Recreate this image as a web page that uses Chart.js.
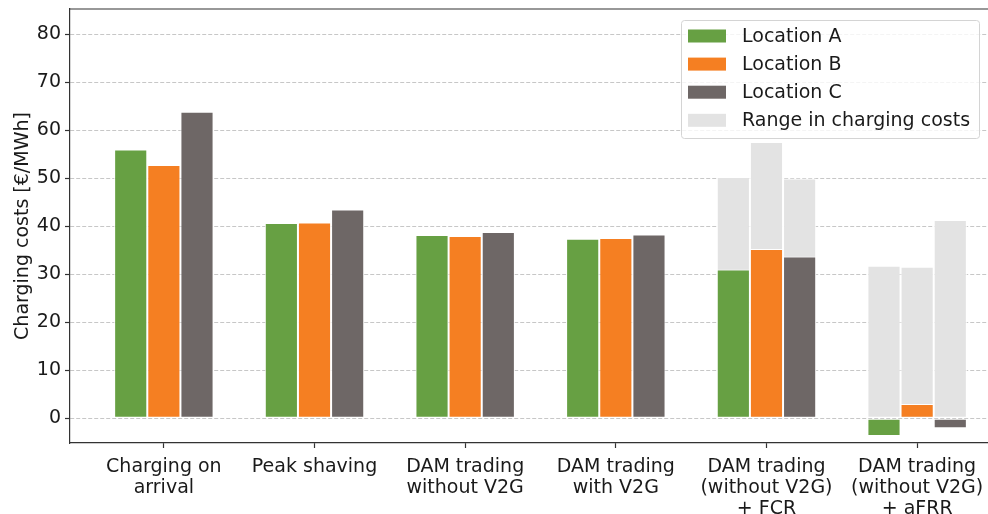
<!DOCTYPE html>
<html>
<head>
<meta charset="utf-8">
<script src="https://cdn.jsdelivr.net/npm/chart.js@4/dist/chart.umd.min.js"></script>
<style>
  html, body { margin: 0; padding: 0; background: #ffffff; overflow: hidden; }
  #wrap { width: 988px; height: 514px; position: relative; overflow: hidden; }
</style>
</head>
<body>
<div id="wrap"><canvas id="chart" width="1012" height="514"></canvas></div>
<script>
// Scenario labels (multi-line)
const categories = [
  ["Charging on", "arrival"],
  ["Peak shaving"],
  ["DAM trading", "without V2G"],
  ["DAM trading", "with V2G"],
  ["DAM trading", "(without V2G)", "+ FCR"],
  ["DAM trading", "(without V2G)", "+ aFRR"]
];

// Average charging costs per location [€/MWh]
const locationA = [56.0, 40.7, 38.2, 37.4, 31.0, -3.7];
const locationB = [52.8, 40.8, 38.0, 37.6, 35.3, 3.0];
const locationC = [63.9, 43.5, 38.8, 38.3, 33.7, -2.1];

// Upper end of the charging-cost range (only for the ancillary-service scenarios)
const rangeA = [null, null, null, null, 50.3, 31.8];
const rangeB = [null, null, null, null, 57.6, 31.6];
const rangeC = [null, null, null, null, 50.0, 41.3];

const yTicks = [0, 10, 20, 30, 40, 50, 60, 70, 80];

const COLORS = {
  A: 'rgb(103,160,67)',
  B: 'rgb(245,127,34)',
  C: 'rgb(110,103,102)',
  range: 'rgb(227,227,227)'
};

const FONT = "'DejaVu Sans', sans-serif";
const TEXT = '#1a1a1a';

function points(values) {
  return values.map((v, i) => ({ x: i, y: v })).filter(p => p.y !== null);
}
function rangePoints(values) {
  return values.map((v, i) => ({ x: i, y: v === null ? null : [0, v] })).filter(p => p.y !== null);
}

const barCommon = {
  borderColor: 'rgba(255,255,255,0.95)',
  borderWidth: 1,
  borderSkipped: false,
  categoryPercentage: 0.66,
  barPercentage: 1.0
};

// Plot frame on top and right sides (matplotlib-style box)
const frameBox = {
  id: 'frameBox',
  afterDraw(chart) {
    const { ctx, chartArea } = chart;
    ctx.save();
    ctx.strokeStyle = '#333333';
    ctx.lineWidth = 1.2;
    ctx.beginPath();
    ctx.moveTo(chartArea.left - 0.6, chartArea.top);
    ctx.lineTo(chartArea.right, chartArea.top);
    ctx.lineTo(chartArea.right, chartArea.bottom);
    ctx.stroke();
    ctx.restore();
  }
};

// Boxed legend inside the plot area, top right
const boxLegend = {
  id: 'boxLegend',
  afterDraw(chart) {
    const { ctx } = chart;
    const seen = new Set();
    const items = [];
    chart._getSortedDatasetMetas().forEach(meta => {
      const ds = chart.data.datasets[meta.index];
      if (seen.has(ds.label)) return;
      seen.add(ds.label);
      items.push({ label: ds.label, color: ds.backgroundColor });
    });
    const x = 681, y = 20, w = 298, h = 118, r = 3;
    ctx.save();
    ctx.fillStyle = 'rgba(255,255,255,0.8)';
    ctx.strokeStyle = '#d4d4d4';
    ctx.lineWidth = 1;
    ctx.beginPath();
    ctx.roundRect(x + 0.5, y + 0.5, w, h, r);
    ctx.fill();
    ctx.stroke();
    ctx.font = '19px ' + FONT;
    ctx.textBaseline = 'middle';
    ctx.textAlign = 'left';
    items.forEach((it, i) => {
      const cy = y + 16 + i * 28.1;
      ctx.fillStyle = it.color;
      ctx.fillRect(x + 7, cy - 6.5, 38, 13);
      ctx.fillStyle = TEXT;
      ctx.fillText(it.label, x + 61, cy + 1);
    });
    ctx.restore();
  }
};

// Each location shares one slot per scenario with its range bar (drawn behind it)
const data = {
  datasets: [
    Object.assign({ label: 'Location A', data: points(locationA), backgroundColor: COLORS.A, stack: 'A', order: 0 }, barCommon),
    Object.assign({ label: 'Location B', data: points(locationB), backgroundColor: COLORS.B, stack: 'B', order: 0 }, barCommon),
    Object.assign({ label: 'Location C', data: points(locationC), backgroundColor: COLORS.C, stack: 'C', order: 0 }, barCommon),
    Object.assign({ label: 'Range in charging costs', data: rangePoints(rangeA), backgroundColor: COLORS.range, stack: 'A', order: 1 }, barCommon),
    Object.assign({ label: 'Range in charging costs', data: rangePoints(rangeB), backgroundColor: COLORS.range, stack: 'B', order: 1 }, barCommon),
    Object.assign({ label: 'Range in charging costs', data: rangePoints(rangeC), backgroundColor: COLORS.range, stack: 'C', order: 1 }, barCommon)
  ]
};

const X_MIN = -0.623, X_MAX = 5.623;
const catTicks = categories.map((_, i) => ({ value: i }));

new Chart(document.getElementById('chart'), {
  type: 'bar',
  data,
  plugins: [frameBox, boxLegend],
  options: {
    responsive: false,
    devicePixelRatio: 1,
    animation: false,
    layout: { padding: { top: 9, right: 1, bottom: 0, left: 0 } },
    plugins: {
      legend: { display: false },
      tooltip: { enabled: false }
    },
    scales: {
      x: {
        type: 'linear',
        position: 'bottom',
        min: X_MIN,
        max: X_MAX,
        offset: false,
        stacked: true,
        afterBuildTicks(scale) { scale.ticks = catTicks.map(t => ({ value: t.value })); },
        afterFit(scale) {
          scale.height = 71;
          scale.paddingLeft = 0;
          scale.paddingRight = 0;
        },
        ticks: {
          autoSkip: false,
          maxRotation: 0,
          padding: 8,
          color: TEXT,
          font: { family: FONT, size: 19, lineHeight: 1.12 },
          callback: (v) => categories[v]
        },
        grid: {
          offset: false,
          drawOnChartArea: false,
          drawTicks: true,
          tickLength: 5,
          tickColor: '#333333',
          tickWidth: 1.2
        },
        border: { display: true, color: '#333333', width: 1.2 }
      },
      y: {
        min: -5.15,
        max: 85.3,
        stacked: false,
        afterBuildTicks(scale) { scale.ticks = yTicks.map(v => ({ value: v })); },
        afterFit(scale) {
          scale.width = 70;
          scale.paddingTop = 0;
          scale.paddingBottom = 0;
        },
        ticks: {
          padding: 4,
          color: TEXT,
          font: { family: FONT, size: 19 },
          callback: (v) => String(v)
        },
        grid: {
          color: 'rgba(185,185,185,0.8)',
          borderDash: [4, 2],
          lineWidth: 1,
          drawTicks: true,
          tickLength: 5,
          tickColor: '#333333',
          tickWidth: 1.2,
          tickBorderDash: []
        },
        border: { display: true, color: '#333333', width: 1.2, dash: [4, 2] },
        title: {
          display: true,
          text: 'Charging costs [€/MWh]',
          color: TEXT,
          font: { family: FONT, size: 19 },
          padding: { top: 12, bottom: 0 }
        }
      }
    }
  }
});
</script>
</body>
</html>
